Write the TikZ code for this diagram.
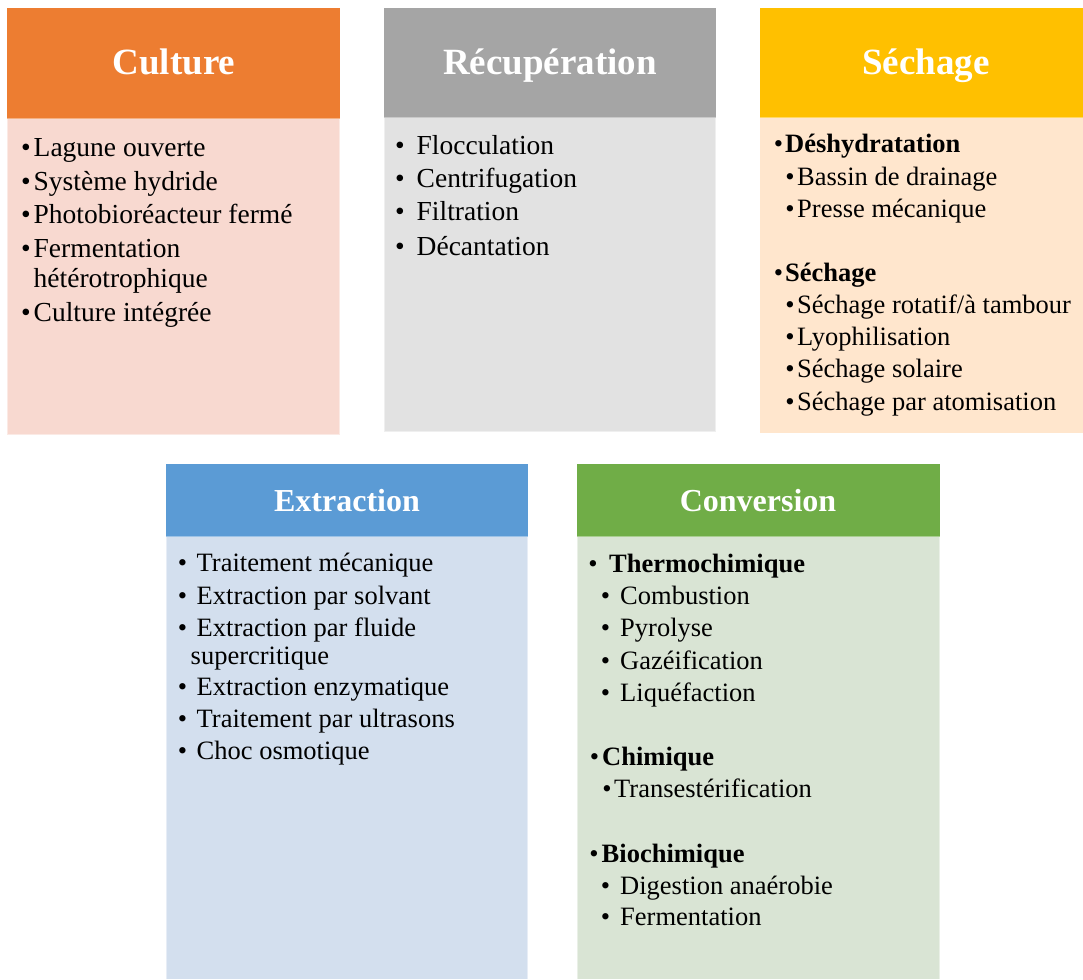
\documentclass[tikz,border=0pt]{standalone}
\usepackage{fontspec}
\setmainfont{Liberation Serif}
\definecolor{cultH}{HTML}{ED7D31}
\definecolor{cultB}{HTML}{F8D9D0}
\definecolor{recH}{HTML}{A5A5A5}
\definecolor{recB}{HTML}{E2E2E2}
\definecolor{secH}{HTML}{FFC000}
\definecolor{secB}{HTML}{FFE6CD}
\definecolor{extH}{HTML}{5B9BD5}
\definecolor{extB}{HTML}{D3DFEE}
\definecolor{conH}{HTML}{70AD47}
\definecolor{conB}{HTML}{D9E4D4}
\tikzset{
  bigtitle/.style={anchor=base, inner sep=0, text=white, font=\bfseries\fontsize{37}{40}\selectfont},
  smalltitle/.style={anchor=base, inner sep=0, text=white, font=\bfseries\fontsize{32}{36}\selectfont},
  itemA/.style={anchor=base west, inner sep=0, font=\fontsize{27.5}{30}\selectfont},
  bulA/.style={anchor=base, inner sep=0, font=\fontsize{27.5}{30}\selectfont},
  itemB/.style={anchor=base west, inner sep=0, font=\fontsize{26.5}{30}\selectfont},
  bulB/.style={anchor=base, inner sep=0, font=\fontsize{26.5}{30}\selectfont},
  boldB/.style={itemB, font=\bfseries\fontsize{26.5}{30}\selectfont},
}
\begin{document}
\begin{tikzpicture}[x=1pt,y=-1pt]
\useasboundingbox (0,0) rectangle (1083,979);
% ---- boxes
\fill[cultB] (7,118) rectangle (340,435);
\fill[cultH] (7,8) rectangle (340,118);
\draw[white!45!cultB, line width=1pt] (7.5,118) -- (7.5,434.5) -- (339.5,434.5) -- (339.5,118);
\draw[white!40!cultH, line width=0.8pt] (7,118) -- (340,118);

\fill[recB] (384,117) rectangle (716,432);
\fill[recH] (384,8) rectangle (716,117);
\draw[white!45!recB, line width=1pt] (384.5,117) -- (384.5,431.5) -- (715.5,431.5) -- (715.5,117);
\draw[white!40!recH, line width=0.8pt] (384,117) -- (716,117);

\fill[secB] (760,117) rectangle (1083,433);
\fill[secH] (760,8) rectangle (1083,117);
\draw[white!40!secH, line width=0.8pt] (760,117) -- (1083,117);

\fill[extB] (166,536) rectangle (528,979);
\fill[extH] (166,464) rectangle (528,536);
\draw[white!45!extB, line width=1pt] (166.5,536) -- (166.5,979) (527.5,536) -- (527.5,979);
\draw[white!40!extH, line width=0.8pt] (166,536.5) -- (528,536.5);

\fill[conB] (577,536) rectangle (940,979);
\fill[conH] (577,464) rectangle (940,536);
\draw[white!45!conB, line width=1pt] (577.5,536) -- (577.5,979) (939.5,536) -- (939.5,979);
\draw[white!40!conH, line width=0.8pt] (577,536.5) -- (940,536.5);

% ---- titles
\node[bigtitle] (tcult) at (174,75) {Culture};
\node[bigtitle] (trec) at (550,75) {Récupération};
\node[bigtitle] (tsec) at (926,75) {Séchage};
\node[smalltitle] (text) at (347,511) {Extraction};
\node[smalltitle] (tcon) at (758,511) {Conversion};

% ---- Culture
\foreach \y/\t [count=\i] in {156/Lagune ouverte,190.5/Système hydride,223.5/Photobioréacteur fermé,257.5/Fermentation,321/Culture intégrée}{
  \node[bulA] (cb\i) at (26,\y) {•};
  \node[itemA] (ci\i) at (33.5,\y) {\t};
}
\node[itemA] (ci6) at (33.5,287) {hétérotrophique};

% ---- Recuperation
\foreach \y/\t [count=\i] in {154/Flocculation,187/Centrifugation,220.5/Filtration,255/Décantation}{
  \node[bulA] (rb\i) at (400,\y) {•};
  \node[itemA] (ri\i) at (416.5,\y) {\t};
}

% ---- Sechage
\node[bulB] (sb1) at (778.5,152) {•};
\node[boldB] (si1) at (785,152) {Déshydratation};
\node[bulB] (sb2) at (778.5,281) {•};
\node[boldB] (si2) at (785,281) {Séchage};
\foreach \y/\t [count=\i] in {185/Bassin de drainage,217/Presse mécanique,345.5/Lyophilisation,377.5/Séchage solaire,410/Séchage par atomisation}{
  \node[bulB] (ssb\i) at (790,\y) {•};
  \node[itemB] (ssi\i) at (797,\y) {\t};
}
\node[bulB] (ssb6) at (790,313) {•};
\node[itemB] (ssi6) at (797,313) {Séchage rotatif/à tambour};

% ---- Extraction
\foreach \y/\t [count=\i] in {571.5/Traitement mécanique,604/Extraction par solvant,636/Extraction par fluide,695.5/Extraction enzymatique,727/Traitement par ultrasons,759/Choc osmotique}{
  \node[bulB] (eb\i) at (182.5,\y) {•};
  \node[itemB] (ei\i) at (196.5,\y) {\t};
}
\node[itemB] (ei7) at (190.5,664) {supercritique};

% ---- Conversion
\node[bulB] (kb1) at (593,572) {•};
\node[boldB] (ki1) at (609,572) {Thermochimique};
\foreach \y/\t [count=\i] in {604/Combustion,636/Pyrolyse,669/Gazéification,701/Liquéfaction,894.5/Digestion anaérobie,925.5/Fermentation}{
  \node[bulB] (kkb\i) at (605.5,\y) {•};
  \node[itemB] (kki\i) at (620,\y) {\t};
}
\node[bulB] (kb2) at (594.5,765.5) {•};
\node[boldB] (ki2) at (602,765.5) {Chimique};
\node[bulB] (kb3) at (607,797.5) {•};
\node[itemB] (ki3) at (614,797.5) {Transestérification};
\node[bulB] (kb4) at (594,862) {•};
\node[boldB] (ki4) at (601.5,862) {Biochimique};
\end{tikzpicture}
\end{document}
